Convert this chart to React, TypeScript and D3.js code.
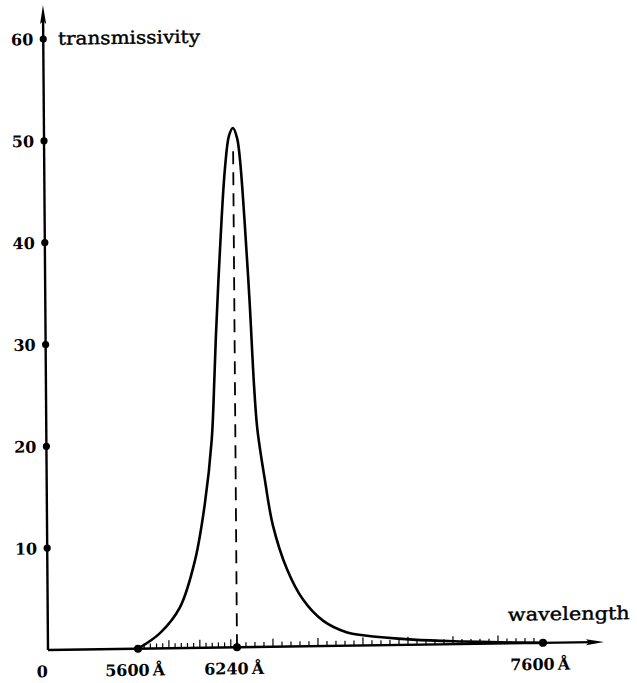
import React from "react";
import * as d3 from "d3";

// Data
const wavelengths = [5600, 5743, 5873, 5973, 6040, 6087, 6107, 6119, 6149, 6186, 6215, 6240, 6258, 6270, 6288, 6308, 6325, 6338, 6369, 6404, 6465, 6535, 6623, 6730, 6801, 7022, 7244, 7467, 7600];
const transmissivity = [0, 1.5, 4.0, 8.6, 14.2, 20.4, 26.3, 30.5, 38.8, 47.0, 50.3, 51.0, 50.0, 47.9, 42.0, 33.9, 25.6, 21.4, 16.5, 11.9, 7.6, 4.6, 2.5, 1.3, 1.0, 0.5, 0.25, 0.08, 0];
const yTicks = [10, 20, 30, 40, 50, 60];
const xLabelTicks = [5600, 6240, 7600];
const xLabels = ["5600\u2009Å", "6240\u2009Å", "7600\u2009Å"];
const peakWavelength = 6240;
const peakLineTop = 49;
const minorTickValues = d3.range(5640, 7600, 40);

export default function App() {
  const x = d3.scaleLinear().domain([5600, 6240, 7600]).range([90, 189, 495]);
  const y = d3.scaleLinear().domain([0, 60]).range([0, -611]);
  const pts = wavelengths.map((w, i) => [w, transmissivity[i]] as [number, number]);
  const line = d3
    .line<[number, number]>()
    .x((d) => x(d[0]))
    .y((d) => y(d[1]))
    .curve(d3.curveCatmullRom.alpha(0.5));

  const numFont = { fontFamily: "'DejaVu Serif', 'Liberation Serif', serif", fontWeight: 700, fontSize: 16 };
  const wordFont = {
    fontFamily: "'DejaVu Serif', 'Liberation Serif', serif",
    fontSize: 18,
    stroke: "#000",
    strokeWidth: 0.4,
  };

  return (
    <svg width={637} height={683} style={{ position: "absolute", left: 0, top: 0, background: "#fff" }}>
      <g transform="translate(48,650) matrix(1 -0.0144 0.0078 1 0 0)">
        {/* y axis */}
        <line x1={0} y1={0} x2={0} y2={-630} stroke="#000" strokeWidth={2.4} />
        <path d="M0,-645 L-3,-626 L0,-629 L3,-626 Z" fill="#000" />
        {/* x axis */}
        <line x1={0} y1={0} x2={545} y2={0} stroke="#000" strokeWidth={2.4} />
        <path d="M556,0 L538,-3 L541,0 L538,3 Z" fill="#000" />
        {/* minor ticks */}
        {minorTickValues.map((v, i) => (
          <line
            key={"mt" + v}
            x1={x(v)}
            x2={x(v)}
            y1={0}
            y2={(i + 1) % 5 === 0 ? -8 : -5}
            stroke="#000"
            strokeWidth={1.2}
          />
        ))}
        {/* y ticks */}
        {yTicks.map((v) => (
          <g key={"yt" + v}>
            <circle cx={0} cy={y(v)} r={3.6} fill="#000" />
            <text x={-10} y={y(v) + 6} textAnchor="end" style={numFont}>
              {v}
            </text>
          </g>
        ))}
        <text x={-6} y={27} textAnchor="middle" style={numFont}>
          0
        </text>
        {/* x labelled ticks */}
        {xLabelTicks.map((v, i) => (
          <g key={"xt" + v}>
            <circle cx={x(v)} cy={0} r={4} fill="#000" />
            <text x={x(v) - 3} y={27} textAnchor="middle" style={numFont}>
              {xLabels[i]}
            </text>
          </g>
        ))}
        {/* dashed peak line */}
        <line
          x1={x(peakWavelength)}
          x2={x(peakWavelength)}
          y1={0}
          y2={y(peakLineTop)}
          stroke="#000"
          strokeWidth={1.8}
          strokeDasharray="13,8"
        />
        {/* curve */}
        <path d={line(pts) || ""} fill="none" stroke="#000" strokeWidth={2.6} strokeLinejoin="round" />
        {/* axis titles */}
        <text x={14.7} y={y(60) + 6} style={wordFont} textLength={142} lengthAdjust="spacingAndGlyphs">
          transmissivity
        </text>
        <text x={460} y={-22.5} style={wordFont} textLength={122} lengthAdjust="spacingAndGlyphs">
          wavelength
        </text>
      </g>
    </svg>
  );
}
